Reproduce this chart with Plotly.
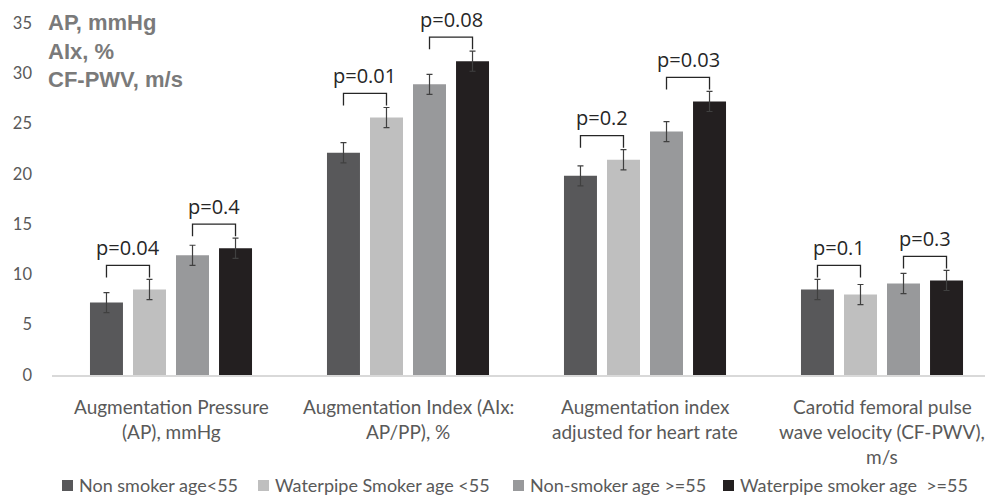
import plotly.graph_objects as go

categories = ["Augmentation Pressure<br>(AP), mmHg",
              "Augmentation Index (AIx:<br>AP/PP), %",
              "Augmentation index<br>adjusted for heart rate",
              "Carotid femoral pulse<br>wave velocity (CF-PWV),<br>m/s"]
series_names = ["Non smoker age<55", "Waterpipe Smoker age <55",
                "Non-smoker age >=55", "Waterpipe smoker age  >=55"]
series_values = [
    [7.2, 22.1, 19.8, 8.5],
    [8.5, 25.6, 21.4, 8.0],
    [11.9, 28.9, 24.2, 9.1],
    [12.6, 31.2, 27.2, 9.4],
]
series_errors = [
    [1.0, 1.0, 1.0, 1.0],
    [1.0, 1.0, 1.0, 1.0],
    [1.0, 1.0, 1.0, 1.0],
    [1.0, 1.0, 1.0, 1.0],
]
colors = ["#58585a", "#bfbfbf", "#98999b", "#231f20"]
# p-values: (younger pair, older pair) per category
p_young = ["p=0.04", "p=0.01", "p=0.2", "p=0.1"]
p_old = ["p=0.4", "p=0.08", "p=0.03", "p=0.3"]
y_ticks = [0, 5, 10, 15, 20, 25, 30, 35]

W, H = 990, 496
ML, MR, MT, MB = 52, 5, 23, 121
PW, PH = W - ML - MR, H - MT - MB
bargap = 0.274
slot = (1 - bargap) / 4


def px_to_paper_x(px):
    return (px - ML) / PW


def py_to_paper_y(py):
    return (H - MB - py) / PH


fig = go.Figure()
xs = list(range(len(categories)))
for k in range(4):
    fig.add_trace(go.Bar(
        x=xs, y=series_values[k], name=series_names[k],
        marker=dict(color=colors[k], line=dict(width=0)),
        error_y=dict(type="data", array=series_errors[k], color="#404040",
                     thickness=1.2, width=3),
        showlegend=False,
    ))

shapes = []
annotations = []
for i in xs:
    for (a, b, ptxt) in [(0, 1, p_young[i]), (2, 3, p_old[i])]:
        xa = i + (a - 1.5) * slot
        xb = i + (b - 1.5) * slot
        top_err = max(series_values[a][i] + series_errors[a][i],
                      series_values[b][i] + series_errors[b][i])
        y0 = top_err + 0.2
        y1 = y0 + 1.2
        shapes.append(dict(type="path", xref="x", yref="y",
                           path=f"M {xa},{y0} L {xa},{y1} L {xb},{y1} L {xb},{y0}",
                           line=dict(color="#262626", width=1.3)))
        annotations.append(dict(x=(xa + xb) / 2, y=y1 + 0.25, xref="x", yref="y",
                                text=ptxt, showarrow=False, yanchor="bottom",
                                font=dict(family="Open Sans", size=20, color="#262626")))

# category labels, one line per annotation
for i, cat in enumerate(categories):
    for j, line in enumerate(cat.split("<br>")):
        annotations.append(dict(x=i, y=0, xref="x", yref="paper", text=line,
                                showarrow=False, yanchor="middle",
                                yshift=-(31 + 25 * j),
                                font=dict(family="Lato", size=19, color="#595959")))

# axis title block
annotations.append(dict(x=px_to_paper_x(46), y=1, xref="paper", yref="paper",
                        xanchor="left", yanchor="top", yshift=15, align="left",
                        text="<b>AP, mmHg<br>AIx, %<br>CF-PWV, m/s</b>",
                        showarrow=False,
                        font=dict(family="Liberation Sans", size=22, color="#7a7a7a")))

# legend drawn manually
legend_marker_px = [62, 258, 513, 723]
legend_cy = 485
for k in range(4):
    mx = legend_marker_px[k]
    shapes.append(dict(type="rect", xref="paper", yref="paper",
                       x0=px_to_paper_x(mx), x1=px_to_paper_x(mx + 11),
                       y0=py_to_paper_y(legend_cy + 6), y1=py_to_paper_y(legend_cy - 5),
                       fillcolor=colors[k], line=dict(width=0)))
    annotations.append(dict(x=px_to_paper_x(mx + 15), y=py_to_paper_y(legend_cy),
                            xref="paper", yref="paper", xanchor="left", yanchor="middle",
                            text=series_names[k].replace("<", "&lt;"), showarrow=False,
                            font=dict(family="Lato", size=18, color="#595959")))

x_lo = -119 / 237
x_hi = x_lo + PW / 237

fig.update_layout(
    width=W, height=H,
    margin=dict(l=ML, r=MR, t=MT, b=MB, pad=0),
    paper_bgcolor="white", plot_bgcolor="white",
    barmode="group", bargap=bargap, bargroupgap=0.233,
    shapes=shapes, annotations=annotations,
    showlegend=False,
    xaxis=dict(range=[x_lo, x_hi], showticklabels=False, showgrid=False,
               zeroline=False, showline=True, linecolor="#d9d9d9", linewidth=1.5,
               ticks="", automargin=False),
    yaxis=dict(range=[0, 35], tickvals=y_ticks, showgrid=False, zeroline=False,
               showline=False, ticks="", ticklabelstandoff=19, automargin=False,
               tickfont=dict(family="Lato", size=16.5, color="#595959")),
)

fig.write_html("out.html", config={"displayModeBar": False},
               post_script="document.body.style.margin='0';document.body.style.overflow='hidden';")
